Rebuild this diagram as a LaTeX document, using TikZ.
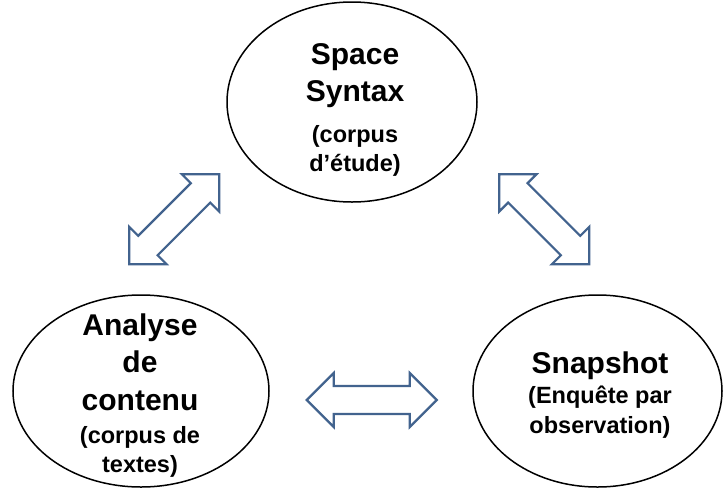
\documentclass[tikz,border=0pt]{standalone}
\usepackage{fontspec}
\setmainfont{Liberation Sans}
\usetikzlibrary{shapes.geometric}
\definecolor{arrowblue}{RGB}{66,99,142}
\tikzset{
  bubble/.style={draw=black, line width=1.5pt, ellipse, inner sep=0pt, fill=white},
  bigtxt/.style={font=\fontsize{30}{35}\selectfont\bfseries, anchor=base, inner sep=0pt},
  smalltxt/.style={font=\fontsize{23.5}{28}\selectfont\bfseries, anchor=base, inner sep=0pt},
  arrowline/.style={draw=arrowblue, line width=2.2pt, fill=white, line join=miter},
  dblarrow/.pic={
    \path[arrowline] (-65,0) -- (-38,27) -- (-38,14) -- (38,14) -- (38,27) -- (65,0)
      -- (38,-27) -- (38,-14) -- (-38,-14) -- (-38,-27) -- cycle;
  }
}
\begin{document}
\begin{tikzpicture}[x=1pt, y=-1pt]
\useasboundingbox[fill=white] (0,0) rectangle (723,488);

% ellipses
\node[bubble, minimum width=250pt, minimum height=200pt] (top) at (352,102) {};
\node[bubble, minimum width=256pt, minimum height=192pt] (left) at (141,391) {};
\node[bubble, minimum width=249pt, minimum height=192pt] (right) at (597.5,391) {};

% texts top
\node[bigtxt] (t1) at (355,64) {Space};
\node[bigtxt] (t2) at (355,101.5) {Syntax};
\node[smalltxt] (t3) at (355,142.5) {(corpus};
\node[smalltxt] (t4) at (355,171.5) {d’étude)};

% texts left
\node[bigtxt] (l1) at (140,335) {Analyse};
\node[bigtxt] (l2) at (140,372) {de};
\node[bigtxt] (l3) at (140,410) {contenu};
\node[smalltxt] (l4) at (140,443) {(corpus de};
\node[smalltxt] (l5) at (140,472) {textes)};

% texts right
\node[bigtxt] (r1) at (600,373) {Snapshot};
\node[smalltxt] (r2) at (600,403) {(Enquête par};
\node[smalltxt] (r3) at (600,433) {observation)};

% block arrows between the bubbles
\coordinate (aL) at (174.2,219.2);
\coordinate (aR) at (544.2,219.2);
\coordinate (aB) at (371.7,400);
\pic[rotate=45, scale=0.98] at (aL) {dblarrow};
\pic[rotate=-45, scale=0.98] at (aR) {dblarrow};
\pic at (aB) {dblarrow};
\end{tikzpicture}
\end{document}
